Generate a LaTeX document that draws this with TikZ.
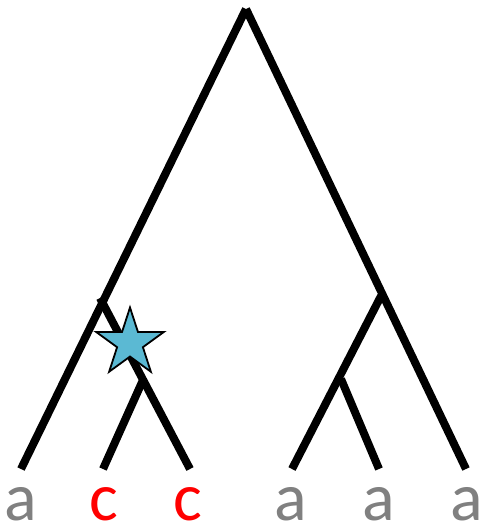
\documentclass[tikz,border=0pt]{standalone}
\usepackage{fontspec}
\setmainfont{Carlito}
\usetikzlibrary{shapes.geometric}
\definecolor{leafgray}{HTML}{808080}
\definecolor{starblue}{HTML}{5BB9D3}
\tikzset{
  branch/.style={line width=8pt, black},
  leafa/.style={anchor=base, text=leafgray, font=\fontsize{68}{68}\selectfont, inner sep=0pt},
  leafc/.style={anchor=base, text=red, font=\fontsize{68}{68}\selectfont, inner sep=0pt},
  mutation/.style={star, star points=5, star point ratio=2.618, minimum size=71pt, inner sep=0pt, draw=black, line width=1.8pt, fill=starblue}
}
\begin{document}
\begin{tikzpicture}[x=1pt,y=-1pt]
\useasboundingbox (0,0) rectangle (481,524);
% internal nodes and leaves
\coordinate (root) at (246,9);
\coordinate (l1) at (21,469);
\coordinate (cn) at (100,298);
\coordinate (cs) at (143,380);
\coordinate (c1) at (103,469);
\coordinate (c2) at (190,469);
\coordinate (rn) at (381,296);
\coordinate (rs) at (341,379);
\coordinate (r1) at (292,469);
\coordinate (r2) at (379,469);
\coordinate (r3) at (466,469);
\draw[branch] (root) -- (l1);
\draw[branch] (root) -- (r3);
\draw[branch] (cn) -- (c2);
\draw[branch] (cs) -- (c1);
\draw[branch] (rn) -- (r1);
\draw[branch] (rs) -- (r2);
\node[mutation] (mut) at (130,343) {};
\node[leafa] (la1) at (21,520) {a};
\node[leafc] (lc1) at (104,520) {c};
\node[leafc] (lc2) at (188,520) {c};
\node[leafa] (la2) at (291,520) {a};
\node[leafa] (la3) at (379,520) {a};
\node[leafa] (la4) at (467,520) {a};
\end{tikzpicture}
\end{document}
